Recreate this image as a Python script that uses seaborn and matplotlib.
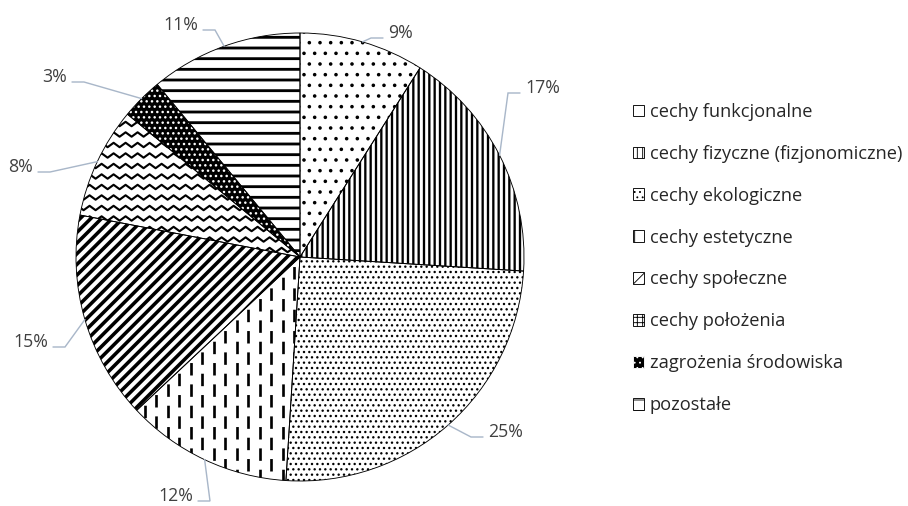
import numpy as np
import matplotlib
matplotlib.use("Agg")
import matplotlib.pyplot as plt
from matplotlib.patches import Rectangle
import seaborn as sns

sns.set_theme(style="white")
# set_theme resets the font, so the family list comes after it
plt.rcParams["font.family"] = ["Open Sans", "DejaVu Sans"]
plt.rcParams["lines.scale_dashes"] = False

# dane z wykresu
kategorie = [
    "cechy funkcjonalne",
    "cechy fizyczne (fizjonomiczne)",
    "cechy ekologiczne",
    "cechy estetyczne",
    "cechy społeczne",
    "cechy położenia",
    "zagrożenia środowiska",
    "pozostałe",
]
udzial = [9, 17, 25, 12, 15, 8, 3, 11]
etykiety = [f"{u}%" for u in udzial]

# hatch unit is one inch, so at 64 dpi the line spacing is close to the original
DPI = 64
W, H = 908, 506
CX, CY, R = 300, 257, 224  # srodek i promien kola w pikselach

# pozycje etykiet w pikselach (x krawedzi tekstu, y srodka, wyrownanie)
pozycje_etykiet = [
    (388, 33, "left"),
    (525, 88, "left"),
    (488, 432, "left"),
    (193, 496, "right"),
    (48, 342, "right"),
    (33, 167, "right"),
    (67, 77, "right"),
    (198, 25, "right"),
]

# wypelnienia: hatch, kolor tla, kolor wzoru, grubosc linii wzoru
wzory = [
    (".", "white", "black", 1.6),
    ("||", "white", "black", 2.6),
    ("..", "white", "black", 1.5),
    (None, "white", "black", 0),   # przerywane pionowe - rysowane osobno
    ("//", "white", "black", 4.0),
    (None, "white", "black", 0),   # fala - rysowana osobno
    ("..", "black", "white", 1.6),
    ("-", "white", "black", 3.2),
]

# wzory w legendzie (male kwadraty)
wzory_legendy = ["", "||", "..", "|", "//", "++", "..", "-"]

KOLOR_TEKSTU = "#404040"
KOLOR_LINII = "#A9B7C9"


def px(x, y):
    return (x - CX) / R, (CY - y) / R


fig = plt.figure(figsize=(W / DPI, H / DPI), dpi=DPI)
ax = fig.add_axes([0, 0, 1, 1])

wedges, _ = ax.pie(
    udzial,
    startangle=90,
    counterclock=False,
    radius=1,
    wedgeprops=dict(facecolor="white", edgecolor="black", linewidth=0),
)

for w, (hatch, tlo, kolor, lw) in zip(wedges, wzory):
    w.set_facecolor(tlo)
    w.set_edgecolor(kolor)
    if hatch:
        w.set_hatch(hatch)
        if hasattr(w, "set_hatch_linewidth"):
            w.set_hatch_linewidth(lw)

# cechy estetyczne - przerywane pionowe kreski
krok = 11.5 / R
for i, x in enumerate(np.arange(-1, 1, krok)):
    (ln,) = ax.plot(
        [x, x], [-1.1, 1.1], color="black", lw=3.0,
        linestyle=(0 if i % 2 == 0 else 12, (14, 10)),
        solid_capstyle="butt", dash_capstyle="butt",
    )
    ln.set_clip_path(wedges[3])

# cechy polozenia - fala
okres = 12 / R
xs = np.arange(-1.1, 1.1, okres / 2)
zz = np.where(np.arange(len(xs)) % 2 == 0, 1, -1) * 2.2 / R
for y in np.arange(-1, 1, 10.5 / R):
    (ln,) = ax.plot(xs, y + zz, color="black", lw=2.4)
    ln.set_clip_path(wedges[5])

# obrys kola
ax.pie(
    udzial,
    startangle=90,
    counterclock=False,
    radius=1,
    wedgeprops=dict(facecolor="none", edgecolor="black", linewidth=1.0),
)

# etykiety procentowe z liniami odniesienia
katy = 90 - np.cumsum([0] + udzial[:-1]) * 3.6 - np.array(udzial) * 1.8
for kat, tekst, (tx, ty, ha) in zip(katy, etykiety, pozycje_etykiet):
    kierunek = 1 if ha == "left" else -1
    ax0 = np.cos(np.radians(kat))
    ay0 = np.sin(np.radians(kat))
    e1 = px(tx - kierunek * 5, ty + 5)
    e2 = px(tx - kierunek * 17, ty + 5)
    ax.plot([ax0, e2[0], e1[0]], [ay0, e2[1], e1[1]], color=KOLOR_LINII, lw=1.6,
            solid_joinstyle="miter")
    x, y = px(tx, ty)
    ax.text(x, y, tekst, ha=ha, va="center", fontsize=20, color=KOLOR_TEKSTU)

ax.set_xlim(-CX / R, (W - CX) / R)
ax.set_ylim((CY - H) / R, CY / R)
ax.set_aspect("auto")
ax.axis("off")

uchwyty = [
    Rectangle((0, 0), 1, 1, facecolor=tlo, edgecolor="white" if tlo == "black" else "black",
              hatch=hl, linewidth=1.0)
    for (hatch, tlo, kolor, lw), hl in zip(wzory, wzory_legendy)
]

fig.legend(
    uchwyty,
    kategorie,
    loc="upper left",
    bbox_to_anchor=(633 / W, 1 - 103 / H),
    frameon=False,
    fontsize=20.5,
    handlelength=0.62,
    handleheight=0.62,
    handletextpad=0.3,
    labelspacing=1.31,
    borderpad=0,
    borderaxespad=0,
    labelcolor="#262626",
)

fig.savefig("out.png", dpi=DPI, facecolor="white")
